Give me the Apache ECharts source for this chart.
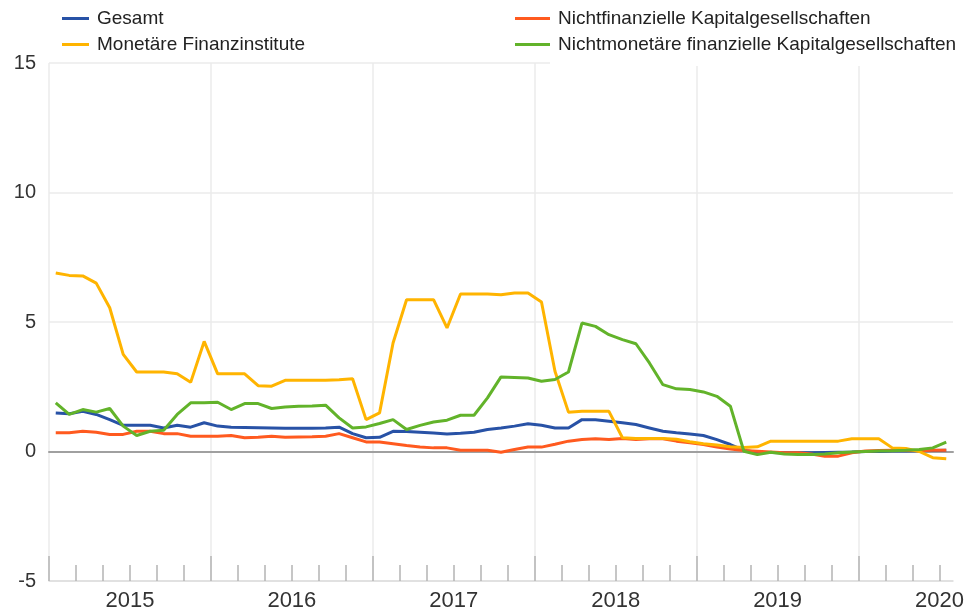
<!DOCTYPE html>
<html>
<head>
<meta charset="utf-8">
<script src="https://cdn.jsdelivr.net/npm/echarts@6.0.0/dist/echarts.min.js"></script>
<style>
  html, body { margin: 0; padding: 0; background: #fff; }
  #main { width: 970px; height: 612px; }
</style>
</head>
<body>
<div id="main"></div>
<script>
// monthly data, Jan 2015 - Jul 2020
const months = [];
for (let y = 2015; y <= 2020; y++) {
  for (let m = 1; m <= 12; m++) {
    if (y === 2020 && m > 7) break;
    months.push(y + '-' + (m < 10 ? '0' + m : m));
  }
}

const yearLabels = ['2015', '2016', '2017', '2018', '2019', '2020'];
const yTicks = [-5, 0, 5, 10, 15];

const gesamt = [1.49, 1.46, 1.55, 1.43, 1.23, 1.01, 1.01, 1.01, 0.91, 1.01, 0.94, 1.11,
  0.98, 0.94, 0.93, 0.92, 0.91, 0.90, 0.90, 0.90, 0.91, 0.94, 0.69, 0.53,
  0.55, 0.78, 0.77, 0.74, 0.71, 0.68, 0.70, 0.74, 0.85, 0.91, 0.98, 1.07,
  1.01, 0.91, 0.91, 1.23, 1.23, 1.17, 1.11, 1.04, 0.91, 0.78, 0.72, 0.68,
  0.62, 0.46, 0.27, 0.04, -0.03, -0.04, -0.05, -0.05, -0.05, -0.04, -0.03, -0.02,
  0.00, 0.00, 0.02, 0.02, 0.03, 0.04, 0.05];

const monetaer = [6.89, 6.80, 6.78, 6.50, 5.55, 3.75, 3.07, 3.07, 3.07, 3.00, 2.67, 4.25,
  3.00, 3.00, 3.00, 2.54, 2.52, 2.75, 2.75, 2.75, 2.75, 2.77, 2.81, 1.23,
  1.49, 4.19, 5.86, 5.86, 5.86, 4.77, 6.08, 6.08, 6.08, 6.05, 6.12, 6.12,
  5.77, 3.10, 1.52, 1.55, 1.55, 1.55, 0.53, 0.50, 0.50, 0.50, 0.47, 0.38,
  0.30, 0.25, 0.18, 0.15, 0.18, 0.40, 0.40, 0.40, 0.40, 0.40, 0.40, 0.49,
  0.49, 0.49, 0.14, 0.12, 0.00, -0.24, -0.28];

const nichtfinanziell = [0.72, 0.72, 0.78, 0.74, 0.66, 0.66, 0.78, 0.78, 0.69, 0.69, 0.59, 0.59,
  0.59, 0.62, 0.53, 0.55, 0.59, 0.55, 0.56, 0.57, 0.59, 0.69, 0.53, 0.37,
  0.37, 0.30, 0.23, 0.17, 0.14, 0.14, 0.05, 0.05, 0.05, -0.03, 0.08, 0.17,
  0.17, 0.28, 0.40, 0.46, 0.49, 0.46, 0.50, 0.46, 0.49, 0.49, 0.40, 0.34,
  0.27, 0.17, 0.10, 0.04, 0.01, -0.02, -0.05, -0.05, -0.10, -0.18, -0.18, -0.05,
  0.02, 0.04, 0.05, 0.05, 0.03, 0.05, 0.05];

const nichtmonetaer = [1.88, 1.43, 1.62, 1.52, 1.66, 0.98, 0.62, 0.78, 0.82, 1.43, 1.88, 1.88,
  1.90, 1.62, 1.85, 1.85, 1.66, 1.72, 1.75, 1.76, 1.79, 1.30, 0.91, 0.95,
  1.08, 1.23, 0.85, 1.01, 1.14, 1.21, 1.40, 1.40, 2.07, 2.88, 2.86, 2.84,
  2.71, 2.78, 3.07, 4.96, 4.83, 4.51, 4.32, 4.16, 3.42, 2.58, 2.42, 2.39,
  2.30, 2.13, 1.75, 0.01, -0.12, -0.03, -0.10, -0.12, -0.12, -0.10, -0.05, -0.02,
  0.00, 0.02, 0.03, 0.05, 0.08, 0.14, 0.36];

// tick positions in months from Jan 2015
const n = months.length;
const yearStarts = [], minorTicks = [], yearMids = [];
for (let i = 0; i < n; i += 2) {
  if (i % 12 === 0) yearStarts.push(i); else minorTicks.push(i);
}
yearLabels.forEach((y, k) => yearMids.push(k * 12 + 6));

const font = 'Liberation Sans, Arial, sans-serif';
const noLine = { show: false, onZero: false };

let myChart = echarts.init(document.getElementById('main'));
let option = {
  animation: false,
  textStyle: { fontFamily: font },
  grid: { left: 49, right: 17, top: 63, bottom: 30 },
  legend: [
    {
      data: ['Gesamt', 'Monetäre Finanzinstitute'],
      orient: 'vertical', left: 57, top: 4, itemGap: 7,
      icon: 'rect', itemWidth: 27, itemHeight: 3,
      textStyle: { fontSize: 19, color: '#222', padding: [0, 0, 0, 3], fontFamily: font }
    },
    {
      data: ['Nichtfinanzielle Kapitalgesellschaften', 'Nichtmonetäre finanzielle Kapitalgesellschaften'],
      orient: 'vertical', left: 510, top: 4, itemGap: 7,
      icon: 'rect', itemWidth: 35, itemHeight: 3,
      textStyle: { fontSize: 19, color: '#222', padding: [0, 0, 0, 3], fontFamily: font }
    }
  ],
  graphic: [{
    type: 'rect', left: 550, top: 58, z: 100,
    shape: { width: 420, height: 8 }, style: { fill: '#fff' }
  }],
  xAxis: [
    { // data axis
      type: 'category', data: months, boundaryGap: true, position: 'bottom',
      axisLine: noLine, axisTick: { show: false }, axisLabel: { show: false }, splitLine: { show: false }
    },
    { // year boundaries
      type: 'value', min: 0, max: n, position: 'bottom',
      axisLine: { show: true, onZero: false, lineStyle: { color: '#dcdcdc', width: 1.5 } },
      axisTick: { show: true, inside: true, length: 25, customValues: yearStarts, lineStyle: { color: '#b4b4b4', width: 1.5 } },
      axisLabel: { show: false },
      splitLine: { show: true, lineStyle: { color: '#ebebeb', width: 1.5 } }
    },
    { // two-month ticks
      type: 'value', min: 0, max: n, position: 'bottom',
      axisLine: noLine,
      axisTick: { show: true, inside: true, length: 16, customValues: minorTicks, lineStyle: { color: '#b4b4b4', width: 1.5 } },
      axisLabel: { show: false }, splitLine: { show: false }
    },
    { // year labels
      type: 'value', min: 0, max: n, position: 'bottom',
      axisLine: noLine, axisTick: { show: false }, splitLine: { show: false },
      axisLabel: {
        show: true, customValues: yearMids, margin: 9,
        fontSize: 22, color: '#333', fontFamily: font,
        formatter: v => yearLabels[(v - 6) / 12]
      }
    },
    { // zero line
      type: 'value', min: 0, max: n, position: 'bottom',
      axisLine: { show: true, onZero: true, lineStyle: { color: '#a0a0a0', width: 2 } },
      axisTick: { show: false }, axisLabel: { show: false }, splitLine: { show: false }
    }
  ],
  yAxis: {
    type: 'value', min: yTicks[0], max: yTicks[yTicks.length - 1], interval: 5,
    axisLine: { show: false }, axisTick: { show: false },
    axisLabel: { fontSize: 20, color: '#333', margin: 13, fontFamily: font },
    splitLine: { show: true, lineStyle: { color: '#ebebeb', width: 1.5 } }
  },
  series: [
    { name: 'Gesamt', data: gesamt, color: '#2852a6' },
    { name: 'Nichtfinanzielle Kapitalgesellschaften', data: nichtfinanziell, color: '#ff5a1f' },
    { name: 'Monetäre Finanzinstitute', data: monetaer, color: '#ffb400' },
    { name: 'Nichtmonetäre finanzielle Kapitalgesellschaften', data: nichtmonetaer, color: '#62b32a' }
  ].map(s => ({
    name: s.name, type: 'line', xAxisIndex: 0, data: s.data,
    showSymbol: false, symbol: 'none',
    itemStyle: { color: s.color },
    lineStyle: { color: s.color, width: 3 }
  }))
};
myChart.setOption(option);
</script>
</body>
</html>
